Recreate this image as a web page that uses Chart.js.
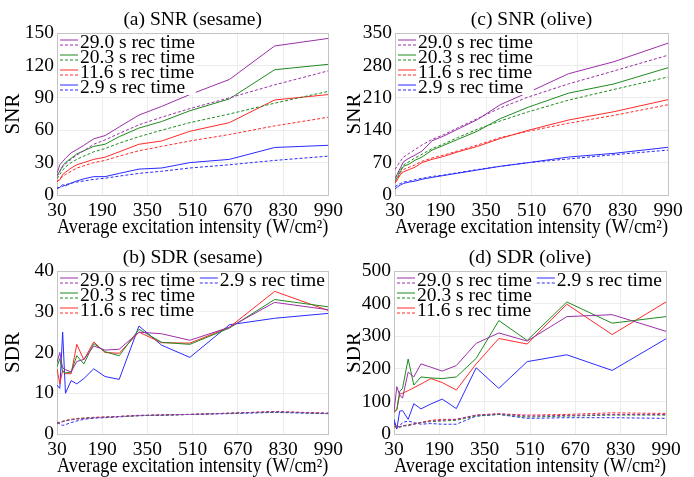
<!DOCTYPE html>
<html>
<head>
<meta charset="utf-8">
<script src="https://cdn.jsdelivr.net/npm/chart.js@4.4.1/dist/chart.umd.min.js"></script>
<style>
  html, body { margin: 0; padding: 0; background: #fff; }
  #wrap { position: relative; width: 694px; height: 477px; }
  .panel { position: absolute; }
</style>
</head>
<body>
<div id="wrap">
  <div class="panel" style="left:0;top:0;width:347px;height:238px"><canvas id="snrSesame"></canvas></div>
  <div class="panel" style="left:347px;top:0;width:347px;height:238px"><canvas id="snrOlive"></canvas></div>
  <div class="panel" style="left:0;top:238px;width:347px;height:239px"><canvas id="sdrSesame"></canvas></div>
  <div class="panel" style="left:347px;top:238px;width:347px;height:239px"><canvas id="sdrOlive"></canvas></div>
</div>
<script>
// x values: average excitation intensity (W/cm^2)
const intensity = [30, 40, 50, 60, 80, 100, 125, 160, 200, 250, 320, 400, 500, 640, 800, 990];
const recTimes = ['29.0', '20.3', '11.6', '2.9'];
const colors = ['#9b30a8', '#1f8a1f', '#ff2a2a', '#2a2aff'];

// (a) SNR (sesame): solid / dashed
const snrSesame290 = [20, 28, 31, 34, 39, 42, 46, 52, 55, 63, 74, 82, 93, 107, 138, 145];
const snrSesame290d = [17, 22, 26, 29, 33, 37, 41, 47, 51, 57, 65, 72, 80, 90, 102, 115];
const snrSesame203 = [18, 22, 27, 30, 34, 38, 41, 45, 47, 54, 62, 68, 78, 89, 116, 121];
const snrSesame203d = [15, 19, 23, 26, 30, 33, 36, 40, 43, 48, 54, 60, 67, 75, 85, 96];
const snrSesame116 = [13, 14, 19, 21, 25, 28, 30, 33, 35, 40, 47, 50, 59, 67, 88, 93];
const snrSesame116d = [12, 15, 17, 19, 22, 25, 27, 30, 32, 36, 41, 45, 50, 56, 64, 72];
const snrSesame29 = [6.5, 7, 9.5, 8.5, 11, 13, 15, 17, 17, 20, 24, 25, 30, 33, 44, 46];
const snrSesame29d = [6, 7, 8, 9.5, 11, 12, 13, 14.5, 15.5, 17.5, 20, 22, 25, 28, 32, 36];

// (c) SNR (olive)
const snrOlive290 = [35, 48, 60, 72, 80, 86, 95, 117, 127, 142, 163, 195, 222, 262, 288, 328];
const snrOlive290d = [55, 65, 74, 82, 90, 98, 108, 120, 130, 145, 165, 188, 212, 240, 268, 302];
const snrOlive203 = [30, 40, 52, 62, 67, 75, 82, 97, 107, 120, 138, 165, 190, 220, 240, 275];
const snrOlive203d = [37, 45, 55, 65, 72, 80, 88, 100, 110, 124, 142, 160, 180, 205, 228, 255];
const snrOlive116 = [25, 35, 45, 50, 55, 60, 70, 77, 83, 93, 105, 122, 140, 162, 180, 206];
const snrOlive116d = [28, 38, 48, 55, 60, 65, 73, 80, 86, 95, 108, 124, 138, 155, 172, 195];
const snrOlive29 = [13, 18, 22, 25, 28, 30, 34, 38, 42, 47, 54, 62, 70, 82, 90, 103];
const snrOlive29d = [18, 22, 25, 28, 30, 33, 36, 40, 43, 48, 55, 62, 70, 78, 87, 97];

// (b) SDR (sesame)
const sdrSesame290 = [17.5, 20, 16.2, 15.8, 15.2, 17.8, 18.3, 21.6, 20.6, 20.8, 25, 24.6, 23, 26.2, 32.3, 30.5];
const sdrSesame290d = [2.6, 2.8, 3.0, 3.2, 3.5, 3.7, 3.8, 4.0, 4.1, 4.3, 4.6, 4.7, 4.8, 5.1, 5.5, 5.1];
const sdrSesame203 = [16.5, 18.5, 15.3, 15, 15.2, 19.2, 17.2, 22.2, 20.2, 19.2, 25.7, 22.5, 22, 26, 33, 31.2];
const sdrSesame203d = [2.5, 2.8, 3.1, 3.3, 3.5, 3.7, 3.9, 4.0, 4.1, 4.3, 4.5, 4.6, 4.8, 5.1, 5.4, 5.0];
const sdrSesame116 = [16, 12.3, 15.6, 14.8, 14.8, 22, 18.2, 22.6, 20, 19.8, 25, 22.4, 22.3, 26.2, 35, 30.3];
const sdrSesame116d = [2.7, 2.9, 3.1, 3.3, 3.6, 3.8, 3.9, 4.1, 4.2, 4.3, 4.5, 4.7, 4.8, 5.1, 5.5, 5.1];
const sdrSesame29 = [12, 11.2, 25, 10, 13.1, 12.3, 13.6, 16, 14.1, 13.4, 26.5, 21.8, 18.8, 26.8, 28.4, 29.6];
const sdrSesame29d = [2.8, 2.5, 2.1, 2.3, 2.8, 3.2, 3.6, 3.9, 4.0, 4.2, 4.5, 4.6, 4.8, 5.0, 5.3, 5.0];

// (d) SDR (olive)
const sdrOlive290 = [70, 145, 120, 110, 190, 175, 215, 205, 193, 210, 278, 310, 285, 360, 366, 315];
const sdrOlive290d = [30, 25, 22, 25, 25, 30, 35, 40, 42, 45, 58, 62, 55, 57, 60, 60];
const sdrOlive203 = [70, 75, 130, 140, 230, 150, 175, 172, 170, 175, 232, 348, 287, 405, 340, 360];
const sdrOlive203d = [25, 22, 20, 24, 28, 30, 35, 38, 40, 42, 55, 60, 52, 55, 58, 58];
const sdrOlive116 = [65, 75, 122, 125, 133, 142, 153, 170, 158, 135, 215, 293, 276, 398, 305, 405];
const sdrOlive116d = [22, 20, 22, 25, 28, 32, 35, 42, 45, 45, 58, 62, 58, 60, 65, 63];
const sdrOlive29 = [45, 15, 70, 72, 45, 93, 77, 92, 107, 78, 203, 140, 222, 243, 195, 292];
const sdrOlive29d = [35, 20, 25, 35, 40, 35, 30, 32, 30, 30, 55, 60, 48, 50, 50, 48];

Chart.defaults.font.family = '"Liberation Serif", "Times New Roman", serif';
Chart.defaults.color = '#000';
Chart.defaults.animation = false;

const FONT = '"Liberation Serif", "Times New Roman", serif';

// two-line legend swatch (solid over dashed), drawn inside the plot area
const pairLegend = {
  id: 'pairLegend',
  afterDatasetsDraw(chart, args, opts) {
    const ctx = chart.ctx;
    const area = chart.chartArea;
    const ds = chart.data.datasets;
    ctx.save();
    ctx.font = '19.5px ' + FONT;
    ctx.textBaseline = 'middle';
    let x = area.left + 3;
    opts.columns.forEach(col => {
      let colW = 0;
      col.forEach(i => { colW = Math.max(colW, ctx.measureText(recTimes[i] + ' s rec time').width); });
      ctx.fillStyle = '#fff';
      ctx.fillRect(x - 1, area.top + 1, 20 + colW + 2, col.length * 15 + 1);
      col.forEach((i, r) => {
        const y = area.top + 9.5 + r * 15;
        ctx.lineWidth = 1;
        ctx.strokeStyle = ds[2 * i].borderColor;
        ctx.setLineDash([]);
        ctx.beginPath(); ctx.moveTo(x, y - 2.5); ctx.lineTo(x + 18, y - 2.5); ctx.stroke();
        ctx.strokeStyle = ds[2 * i + 1].borderColor;
        ctx.setLineDash([3, 2]);
        ctx.beginPath(); ctx.moveTo(x, y + 2.5); ctx.lineTo(x + 18, y + 2.5); ctx.stroke();
        ctx.setLineDash([]);
        ctx.fillStyle = '#000';
        ctx.fillText(recTimes[i] + ' s rec time', x + 20, y);
      });
      x += 20 + colW + 5;
    });
    ctx.restore();
  }
};

// light frame round the plot area
const frame = {
  id: 'frame',
  beforeDatasetsDraw(chart) {
    const a = chart.chartArea;
    const ctx = chart.ctx;
    ctx.save();
    ctx.strokeStyle = '#c4c4c4';
    ctx.lineWidth = 1;
    ctx.strokeRect(Math.round(a.left) + 0.5, Math.round(a.top) + 0.5,
      Math.round(a.right - a.left), Math.round(a.bottom - a.top));
    ctx.restore();
  }
};

function makePanel(id, title, yTitle, yMax, yStep, labelEvery, yWidth, padRight, series, columns) {
  const datasets = [];
  series.forEach((pair, i) => {
    datasets.push({ label: recTimes[i] + ' s rec time', data: pair[0], borderColor: colors[i],
      borderWidth: 1, pointRadius: 0, tension: 0 });
    datasets.push({ label: recTimes[i] + ' s rec time (dashed)', data: pair[1], borderColor: colors[i],
      borderWidth: 1, borderDash: [3, 2], pointRadius: 0, tension: 0 });
  });
  return new Chart(document.getElementById(id), {
    type: 'line',
    data: { labels: intensity, datasets: datasets },
    options: {
      responsive: true,
      maintainAspectRatio: false,
      layout: { padding: { left: 0, right: padRight, top: 0, bottom: 0 } },
      plugins: {
        legend: { display: false },
        tooltip: { enabled: false },
        title: {
          display: true, text: title, fullSize: false,
          font: { size: 19.5, weight: 'normal', lineHeight: 1.2 },
          padding: { top: 8.2, bottom: 1.4 }
        },
        pairLegend: { columns: columns }
      },
      scales: {
        x: {
          type: 'linear', min: 30, max: 990,
          ticks: { stepSize: 160, font: { size: 19.5 }, padding: 4, maxRotation: 0 },
          grid: { color: '#ececec', drawTicks: false },
          border: { display: false },
          title: { display: true, text: 'Average excitation intensity (W/cm²)',
            font: { size: 20 }, padding: { top: 0, bottom: -2 } },
          afterFit: s => { s.height = 43; }
        },
        y: {
          min: 0, max: yMax,
          ticks: { stepSize: yStep, font: { size: 19.5 }, padding: 3,
            callback: v => (v % labelEvery === 0 ? v : '') },
          grid: { color: '#ececec', drawTicks: false },
          border: { display: false },
          title: { display: true, text: yTitle, font: { size: 21, lineHeight: 1 },
            padding: { top: yWidth > 52 ? 2.5 : -3, bottom: 0 } },
          afterFit: s => { s.width = yWidth; }
        }
      }
    },
    plugins: [frame, pairLegend]
  });
}

makePanel('snrSesame', '(a) SNR (sesame)', 'SNR', 150, 30, 30, 57, 15, [
  [snrSesame290, snrSesame290d], [snrSesame203, snrSesame203d],
  [snrSesame116, snrSesame116d], [snrSesame29, snrSesame29d]
], [[0, 1, 2, 3]]);

makePanel('snrOlive', '(c) SNR (olive)', 'SNR', 350, 70, 70, 48, 26, [
  [snrOlive290, snrOlive290d], [snrOlive203, snrOlive203d],
  [snrOlive116, snrOlive116d], [snrOlive29, snrOlive29d]
], [[0, 1, 2, 3]]);

makePanel('sdrSesame', '(b) SDR (sesame)', 'SDR', 40, 5, 10, 57, 17, [
  [sdrSesame290, sdrSesame290d], [sdrSesame203, sdrSesame203d],
  [sdrSesame116, sdrSesame116d], [sdrSesame29, sdrSesame29d]
], [[0, 1, 2], [3]]);

makePanel('sdrOlive', '(d) SDR (olive)', 'SDR', 500, 50, 100, 47, 28, [
  [sdrOlive290, sdrOlive290d], [sdrOlive203, sdrOlive203d],
  [sdrOlive116, sdrOlive116d], [sdrOlive29, sdrOlive29d]
], [[0, 1, 2], [3]]);
</script>
</body>
</html>
